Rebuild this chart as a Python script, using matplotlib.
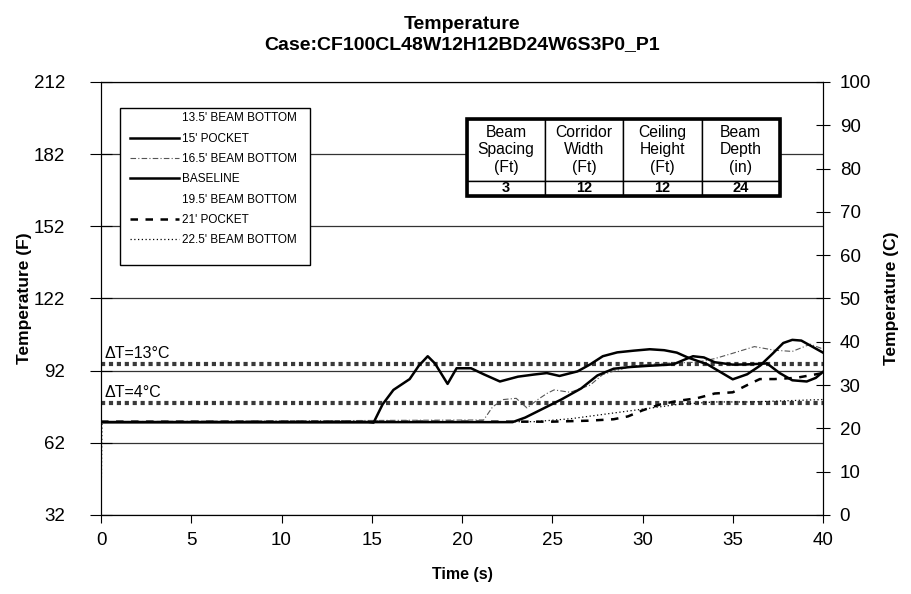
import matplotlib
matplotlib.use("Agg")
import matplotlib.pyplot as plt
from matplotlib.lines import Line2D
from matplotlib.patches import Rectangle

plt.rcParams['font.family'] = ['Liberation Sans', 'DejaVu Sans']

# Thermocouple traces (time in s, temperature in F)
t_pocket15 = [0, 14.8, 15.1, 15.6, 16.2, 17.1, 17.6, 18.1, 18.5, 19.2, 19.7, 20.5,
              21.2, 22.1, 23.1, 24.0, 24.7, 25.4, 26.4, 27.1, 27.8, 28.6, 29.5,
              30.4, 31.2, 31.9, 32.5, 33.6, 35.0, 35.8, 36.5, 37.2, 37.8, 38.3,
              38.8, 39.4, 40]
temp_pocket15 = [70.6, 70.6, 70.4, 78, 84, 88.5, 94, 98, 95, 86.5, 93, 93,
                 90.5, 87.5, 89.5, 90.4, 91, 89.8, 91.7, 94.6, 98, 99.6, 100.3,
                 100.9, 100.5, 99.5, 97.5, 94.6, 88.4, 90.5, 94, 99, 103.5, 104.8,
                 104.5, 102, 99.5]

t_baseline = [0, 22.8, 23.5, 24.3, 25.5, 26.6, 27.5, 28.4, 29.3, 30.3, 31.7, 32.3,
              32.8, 33.4, 34.0, 35.0, 35.8, 36.9, 37.6, 38.3, 39.1, 39.6, 40]
temp_baseline = [70.6, 70.6, 72.5, 75.5, 80, 84.6, 90, 92.8, 93.5, 94, 94.6, 96.5,
                 98, 97.5, 95.5, 94.5, 94.6, 95, 91, 88, 87.5, 89, 91.5]

t_beam165 = [0, 21.2, 21.7, 22.3, 23.0, 23.6, 24.2, 24.7, 25.1, 26.0, 27.1, 27.8,
             28.5, 29.5, 31.0, 33.0, 34.0, 34.9, 36.2, 37.3, 38.3, 38.8, 39.3, 40]
temp_beam165 = [70.8, 71.5, 77, 80, 80.5, 76.5, 80, 82.5, 84, 83, 86, 90.4,
                92, 94, 95, 95.5, 97, 99, 102, 100.5, 100, 101.5, 103, 101]

t_pocket21 = [0, 25.0, 27.0, 28.4, 29.2, 30.0, 31.0, 32.0, 33.0, 34.0, 35.0, 35.8,
              36.5, 37.3, 38.5, 40]
temp_pocket21 = [70.8, 70.8, 71.2, 71.8, 73, 75.5, 78, 79.5, 80.5, 82.5, 83, 86,
                 88.5, 88.5, 89, 91]

t_beam225 = [0, 0.05, 24, 26, 28, 30, 32, 34, 36, 38, 40]
temp_beam225 = [32, 70.8, 70.8, 72, 74, 76, 78, 79, 79, 79.5, 80]

legend_labels = ["13.5' BEAM BOTTOM", "15' POCKET", "16.5' BEAM BOTTOM", "BASELINE",
                 "19.5' BEAM BOTTOM", "21' POCKET", "22.5' BEAM BOTTOM"]

# Temperature rise thresholds above ambient
ambient_c = 21.9
delta_t_c = [13, 4]

table_headers = ["Beam\nSpacing\n(Ft)", "Corridor\nWidth\n(Ft)",
                 "Ceiling\nHeight\n(Ft)", "Beam\nDepth\n(in)"]
table_values = ["3", "12", "12", "24"]


def c_to_f(c):
    return c * 9.0 / 5.0 + 32.0


fig = plt.figure(figsize=(9.12, 5.94), dpi=100)
ax = fig.add_axes([0.1108, 0.133, 0.7916, 0.729])

ax.set_xlim(0, 40)
ax.set_ylim(32, 212)
ax.set_xticks(range(0, 41, 5))
ax.set_yticks(range(32, 213, 30))
ax.yaxis.grid(True, color='#333333', linewidth=0.9)
ax.set_axisbelow(True)

for dt in delta_t_c:
    band = c_to_f(ambient_c + dt)
    ax.plot([0, 40], [band, band], color='#3a3a3a', linewidth=3.0,
            linestyle=(0, (1.0, 0.9)), zorder=2)
    ax.text(0.2, band + 1.0, "\u0394T=%d\u00b0C" % dt, fontsize=11.5,
            va='bottom', ha='left')

ax.plot(t_beam225, temp_beam225, color='black', linewidth=0.9, linestyle=(0, (1, 2)), zorder=3)
ax.plot(t_pocket21, temp_pocket21, color='black', linewidth=1.8, linestyle=(0, (3, 3)), zorder=3)
ax.plot(t_beam165, temp_beam165, color='#555555', linewidth=0.8,
        linestyle=(0, (5, 2, 1, 2)), zorder=3)
ax.plot(t_baseline, temp_baseline, color='black', linewidth=1.8, zorder=4)
ax.plot(t_pocket15, temp_pocket15, color='black', linewidth=1.8, zorder=4)

handles = [
    Line2D([], [], color='none'),
    Line2D([], [], color='black', linewidth=1.8),
    Line2D([], [], color='#555555', linewidth=0.8, linestyle=(0, (5, 2, 1, 2))),
    Line2D([], [], color='black', linewidth=1.8),
    Line2D([], [], color='none'),
    Line2D([], [], color='black', linewidth=1.8, linestyle=(0, (3, 3))),
    Line2D([], [], color='black', linewidth=0.9, linestyle=(0, (1, 2))),
]
leg = ax.legend(handles, legend_labels, loc='upper left', bbox_to_anchor=(0.037, 0.935),
                frameon=False, fontsize=8.5, handlelength=4.1, handletextpad=0.33,
                labelspacing=0.70, borderpad=0.2, borderaxespad=0)
leg.set_zorder(6)
ax.add_patch(Rectangle((0.026, 0.577), 0.263, 0.363, transform=ax.transAxes,
                       facecolor='white', edgecolor='black', linewidth=1.0, zorder=5))

# Geometry summary box
tbl_x, tbl_y, tbl_w, tbl_h = 0.507, 0.737, 0.433, 0.178
tbl = ax.table(cellText=[table_headers, table_values], cellLoc='center',
               bbox=[tbl_x, tbl_y, tbl_w, tbl_h], zorder=6)
tbl.auto_set_font_size(False)
for (r, c), cell in tbl.get_celld().items():
    cell.set_linewidth(1.0)
    cell.set_edgecolor('black')
    if r == 0:
        cell.set_text_props(fontsize=11.3, linespacing=1.2)
        cell.set_height(0.143)
    else:
        cell.set_text_props(fontsize=10.5, fontweight='bold')
        cell.set_height(0.035)
ax.add_patch(Rectangle((tbl_x, tbl_y), tbl_w, tbl_h, transform=ax.transAxes,
                       facecolor='none', edgecolor='black', linewidth=2.6, zorder=7))

ax.tick_params(axis='y', direction='inout', length=16, labelsize=13.5, pad=18)
ax.tick_params(axis='x', direction='out', length=6, labelsize=13.5, pad=6)
ax.set_xlabel("Time (s)", fontsize=11.5, fontweight='bold', labelpad=13)
ax.set_ylabel("Temperature (F)", fontsize=12.5, fontweight='bold', labelpad=1)
ax.set_title("Temperature\nCase:CF100CL48W12H12BD24W6S3P0_P1", fontsize=14,
             fontweight='bold', pad=24, linespacing=1.22)

ax2 = ax.twinx()
ax2.set_ylim(0, 100)
ax2.set_yticks(range(0, 101, 10))
ax2.tick_params(axis='y', direction='inout', length=10, labelsize=13.5, pad=7)
ax2.set_ylabel("Temperature (C)", fontsize=12.5, fontweight='bold', labelpad=9)

fig.savefig("out.png", dpi=100)
